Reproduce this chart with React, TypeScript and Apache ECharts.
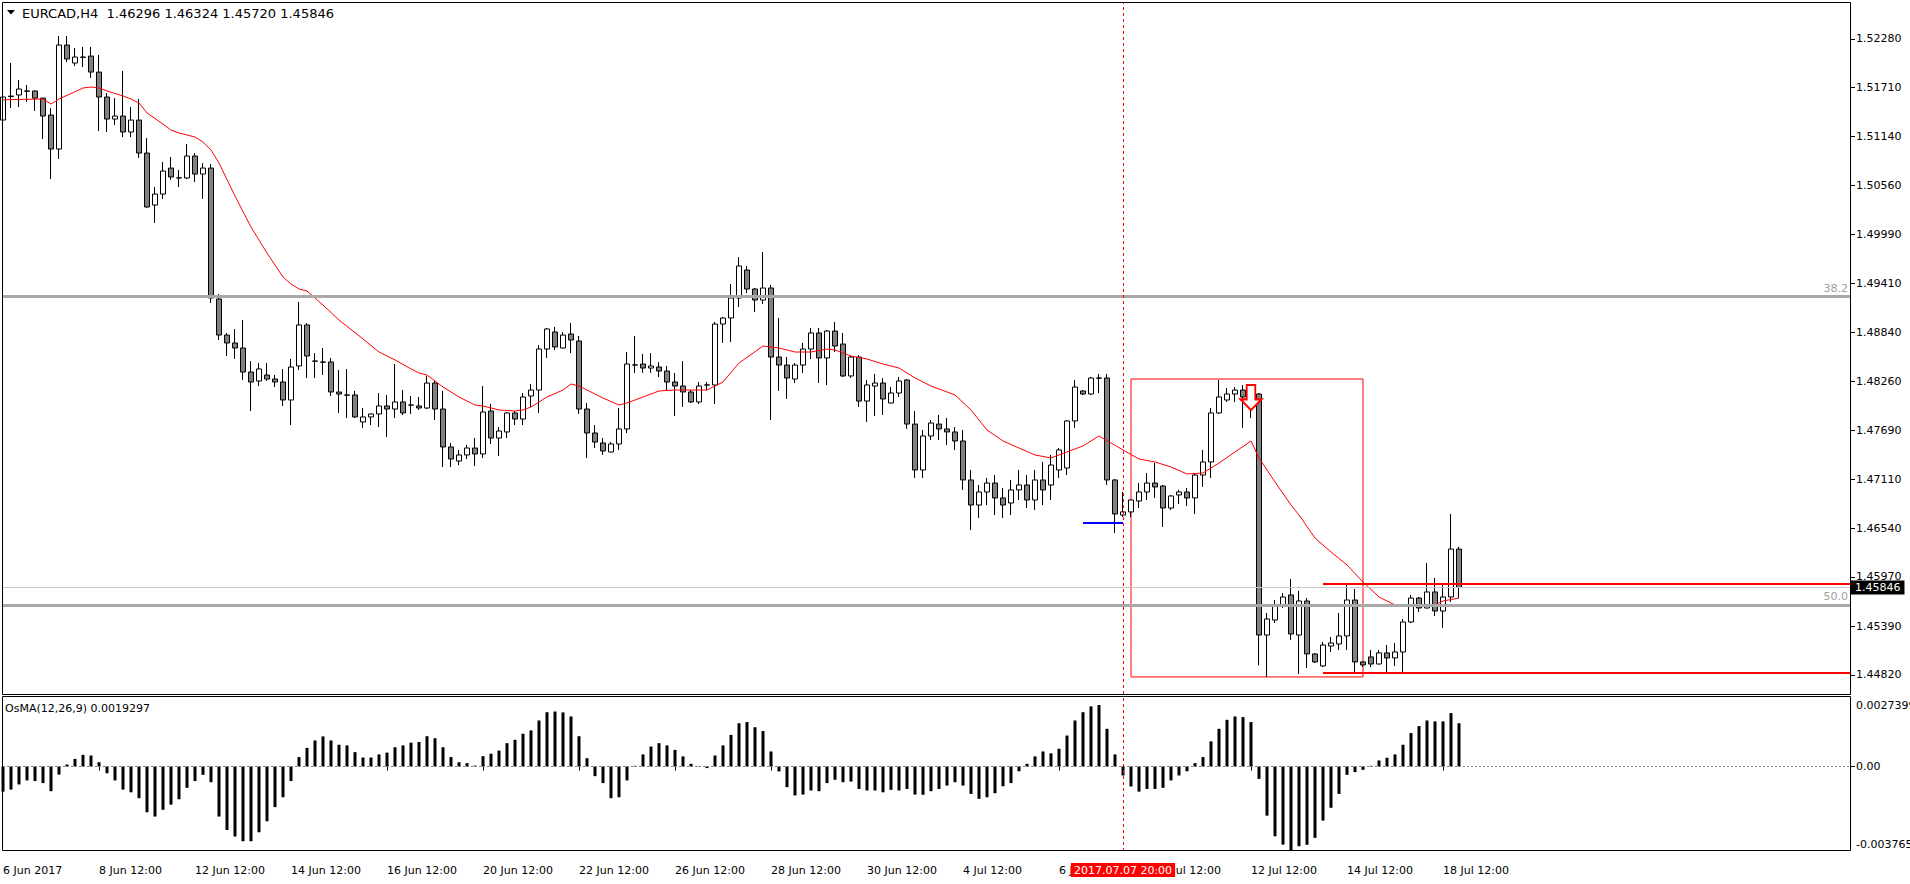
import React, { useEffect, useRef } from "react";
import * as echarts from "echarts";

const title = "EURCAD,H4";
const lastBar = [1.46296, 1.46324, 1.4572, 1.45846];
const priceTicks = [1.5228, 1.5171, 1.5114, 1.5056, 1.4999, 1.4941, 1.4884, 1.4826, 1.4769, 1.4711, 1.4654, 1.4597, 1.4539, 1.4482];
const timeTickIdx = [0, 12, 24, 36, 48, 60, 72, 84, 96, 108, 120, 132, 144, 156, 168, 180];
const timeTickLabels = ["6 Jun 2017", "8 Jun 12:00", "12 Jun 12:00", "14 Jun 12:00", "16 Jun 12:00", "20 Jun 12:00", "22 Jun 12:00", "26 Jun 12:00", "28 Jun 12:00", "30 Jun 12:00", "4 Jul 12:00", "6 Jul 12:00", "10 Jul 12:00", "12 Jul 12:00", "14 Jul 12:00", "18 Jul 12:00"];

// [open, high, low, close]
const ohlc: number[][] = [
  [1.51329, 1.51775, 1.51236, 1.51599], [1.51605, 1.51998, 1.5147, 1.51611], [1.51623, 1.51799, 1.51482, 1.51693], [1.5167, 1.5174, 1.51541, 1.51668],
  [1.5167, 1.51675, 1.51435, 1.51587], [1.51587, 1.5159, 1.51107, 1.51376], [1.51388, 1.5147, 1.50637, 1.50989], [1.50989, 1.52315, 1.50872, 1.52209],
  [1.52209, 1.52315, 1.5201, 1.52045], [1.51998, 1.52174, 1.51963, 1.52068], [1.52068, 1.52186, 1.51951, 1.52065], [1.5208, 1.52186, 1.51822, 1.51892],
  [1.51892, 1.52092, 1.512, 1.51599], [1.51599, 1.51646, 1.51189, 1.51341], [1.51341, 1.51587, 1.51271, 1.51376], [1.51376, 1.51904, 1.5113, 1.51189],
  [1.51189, 1.51482, 1.5113, 1.51329], [1.51329, 1.51576, 1.50884, 1.50942], [1.50942, 1.51118, 1.503, 1.50309], [1.50332, 1.50544, 1.50121, 1.50461],
  [1.50461, 1.50837, 1.50403, 1.50731], [1.50766, 1.50895, 1.50626, 1.50661], [1.50649, 1.50743, 1.50544, 1.50652], [1.50649, 1.51048, 1.50637, 1.50907],
  [1.50907, 1.50942, 1.50602, 1.50696], [1.50696, 1.50825, 1.50403, 1.50766], [1.50766, 1.50813, 1.49183, 1.49242], [1.4923, 1.49288, 1.48749, 1.48807],
  [1.48807, 1.48831, 1.48561, 1.48714], [1.48714, 1.48878, 1.48526, 1.48655], [1.48655, 1.48983, 1.4828, 1.48373], [1.48373, 1.48502, 1.47916, 1.48256],
  [1.48268, 1.48479, 1.48209, 1.48409], [1.48338, 1.48479, 1.48268, 1.48291], [1.48291, 1.48338, 1.48197, 1.48256], [1.48256, 1.48409, 1.47975, 1.48045],
  [1.48045, 1.48526, 1.47752, 1.48432], [1.48444, 1.49195, 1.48397, 1.48925], [1.48925, 1.48948, 1.48303, 1.48561], [1.48502, 1.48596, 1.48303, 1.485],
  [1.48491, 1.48655, 1.48338, 1.48488], [1.48491, 1.48538, 1.48092, 1.48139], [1.48139, 1.48397, 1.47893, 1.48115], [1.48104, 1.48409, 1.47834, 1.48102],
  [1.48104, 1.48151, 1.47834, 1.47846], [1.47787, 1.47951, 1.47717, 1.47846], [1.47846, 1.47885, 1.47752, 1.47881], [1.47881, 1.48127, 1.47728, 1.47975],
  [1.47975, 1.48104, 1.47611, 1.47939], [1.47939, 1.48467, 1.47834, 1.48022], [1.48022, 1.48162, 1.47869, 1.47893], [1.47986, 1.48092, 1.47881, 1.47985],
  [1.47975, 1.4808, 1.47928, 1.47951], [1.47951, 1.48327, 1.47939, 1.48244], [1.48244, 1.4828, 1.4781, 1.47939], [1.47939, 1.48151, 1.47259, 1.47494],
  [1.47494, 1.47541, 1.47259, 1.47353], [1.47329, 1.47459, 1.47282, 1.474], [1.474, 1.47517, 1.47353, 1.47482], [1.47482, 1.47599, 1.47271, 1.47412],
  [1.47412, 1.48209, 1.47365, 1.47904], [1.47916, 1.47998, 1.47529, 1.47599], [1.47599, 1.47728, 1.47388, 1.47681], [1.4767, 1.47904, 1.47599, 1.47893],
  [1.47893, 1.47916, 1.47752, 1.47822], [1.47822, 1.48127, 1.47752, 1.4808], [1.48092, 1.48233, 1.47963, 1.48162], [1.48162, 1.4869, 1.47893, 1.48643],
  [1.48643, 1.4889, 1.48538, 1.48878], [1.48843, 1.48901, 1.48632, 1.48667], [1.48655, 1.48843, 1.4865, 1.48807], [1.48819, 1.48948, 1.48596, 1.48749],
  [1.48737, 1.48796, 1.47881, 1.47939], [1.47939, 1.4801, 1.47365, 1.47658], [1.47658, 1.47752, 1.47482, 1.47552], [1.47541, 1.47599, 1.474, 1.47447],
  [1.47435, 1.47552, 1.4743, 1.47529], [1.47529, 1.47951, 1.47459, 1.47705], [1.47705, 1.48608, 1.47658, 1.48467], [1.48455, 1.48796, 1.48362, 1.48457],
  [1.48467, 1.48585, 1.48362, 1.4842], [1.4842, 1.48596, 1.48362, 1.48444], [1.48432, 1.48491, 1.48315, 1.48385], [1.48385, 1.48444, 1.48162, 1.48256],
  [1.48256, 1.48362, 1.47857, 1.48209], [1.48209, 1.48502, 1.47963, 1.48139], [1.48139, 1.48162, 1.4801, 1.48022], [1.48022, 1.48256, 1.47998, 1.48209],
  [1.48221, 1.48256, 1.48162, 1.48222], [1.48221, 1.4896, 1.47998, 1.48936], [1.48936, 1.49019, 1.48714, 1.49007], [1.49007, 1.49406, 1.48725, 1.49242],
  [1.49242, 1.49722, 1.49136, 1.49617], [1.4957, 1.49617, 1.493, 1.49347], [1.49347, 1.49359, 1.49077, 1.49218], [1.49218, 1.49781, 1.49171, 1.49359],
  [1.49359, 1.49394, 1.4781, 1.48549], [1.48549, 1.49007, 1.48151, 1.48455], [1.48455, 1.48549, 1.48057, 1.48303], [1.48291, 1.48479, 1.48244, 1.48455],
  [1.48455, 1.48714, 1.48362, 1.48643], [1.48643, 1.4889, 1.48526, 1.48831], [1.48831, 1.4889, 1.48244, 1.48538], [1.48538, 1.48866, 1.48221, 1.48854],
  [1.48854, 1.4896, 1.48608, 1.48678], [1.48702, 1.48831, 1.48315, 1.48327], [1.48327, 1.48561, 1.48303, 1.48549], [1.48549, 1.48573, 1.47963, 1.48033],
  [1.48033, 1.4828, 1.47787, 1.48221], [1.48209, 1.4835, 1.47857, 1.48244], [1.48244, 1.48303, 1.47869, 1.48057], [1.4801, 1.48197, 1.48005, 1.48127],
  [1.48127, 1.48315, 1.4808, 1.48268], [1.4828, 1.48291, 1.47705, 1.47763], [1.47763, 1.47916, 1.4713, 1.47224], [1.47224, 1.47693, 1.4713, 1.47623],
  [1.47623, 1.4781, 1.47576, 1.47775], [1.47763, 1.47869, 1.47576, 1.47705], [1.47705, 1.47834, 1.47517, 1.4767], [1.4767, 1.47728, 1.47459, 1.47564],
  [1.47564, 1.47693, 1.4699, 1.47107], [1.47107, 1.47224, 1.4652, 1.46813], [1.46813, 1.47048, 1.46661, 1.46966], [1.46966, 1.4713, 1.46813, 1.47071],
  [1.47071, 1.47165, 1.46696, 1.46896], [1.46896, 1.47013, 1.46661, 1.46813], [1.46837, 1.47107, 1.46696, 1.4699], [1.4699, 1.47224, 1.46872, 1.47048],
  [1.47048, 1.47165, 1.46778, 1.46872], [1.46872, 1.47224, 1.46755, 1.47107], [1.47107, 1.47318, 1.46813, 1.4699], [1.47048, 1.474, 1.46872, 1.47282],
  [1.47224, 1.47482, 1.4713, 1.47459], [1.47247, 1.4781, 1.47165, 1.47799], [1.47799, 1.4828, 1.47717, 1.48197], [1.48151, 1.48162, 1.48104, 1.48115],
  [1.48115, 1.48315, 1.48104, 1.48303], [1.48303, 1.4835, 1.48127, 1.48301], [1.48303, 1.4835, 1.47048, 1.47107], [1.47107, 1.47119, 1.46485, 1.46708],
  [1.46696, 1.46966, 1.46673, 1.46732], [1.46732, 1.4688, 1.46673, 1.46872], [1.4686, 1.47071, 1.46778, 1.46966], [1.46966, 1.47189, 1.46872, 1.47071],
  [1.47071, 1.47306, 1.46896, 1.47025], [1.47036, 1.47048, 1.46555, 1.46778], [1.46778, 1.46931, 1.46755, 1.46919], [1.46931, 1.4699, 1.46825, 1.46966],
  [1.46966, 1.47013, 1.46802, 1.46896], [1.46896, 1.47189, 1.46708, 1.47165], [1.47165, 1.47459, 1.47025, 1.47318], [1.47318, 1.47951, 1.4713, 1.47893],
  [1.47893, 1.4828, 1.47881, 1.4808], [1.48045, 1.48186, 1.48022, 1.48115], [1.48115, 1.48197, 1.48022, 1.48162], [1.48162, 1.48221, 1.47717, 1.4808],
  [1.4808, 1.48221, 1.47834, 1.48139], [1.48115, 1.48127, 1.44932, 1.45288], [1.45288, 1.45546, 1.44796, 1.45476], [1.45464, 1.45699, 1.45429, 1.45629],
  [1.45629, 1.45781, 1.45605, 1.45734], [1.45758, 1.45945, 1.4523, 1.453], [1.45288, 1.45805, 1.44831, 1.45687], [1.45687, 1.45722, 1.44901, 1.45066],
  [1.45066, 1.45075, 1.4496, 1.44972], [1.44925, 1.45206, 1.44913, 1.45171], [1.45159, 1.45265, 1.45089, 1.45194], [1.45183, 1.45546, 1.45112, 1.45277],
  [1.45277, 1.45875, 1.45112, 1.45699], [1.45699, 1.45828, 1.44855, 1.44972], [1.44972, 1.44984, 1.44913, 1.44937], [1.45031, 1.45112, 1.44913, 1.44948],
  [1.44948, 1.45112, 1.44942, 1.45078], [1.45078, 1.45171, 1.44831, 1.45019], [1.45019, 1.45194, 1.44925, 1.45089], [1.45089, 1.45476, 1.44855, 1.45441],
  [1.45441, 1.45758, 1.45429, 1.45722], [1.45722, 1.45734, 1.45558, 1.45605], [1.45605, 1.46133, 1.456, 1.45793], [1.45793, 1.45957, 1.45511, 1.4557],
  [1.4557, 1.45875, 1.45371, 1.45734], [1.45734, 1.46708, 1.45675, 1.46296], [1.46296, 1.46324, 1.4572, 1.45846],
];

const maIdx = [0, 5, 6, 7, 10, 11, 12, 13, 15, 16, 17, 18, 20, 21, 22, 24, 25, 26, 27, 29, 31, 33, 35, 36, 37, 38, 40, 42, 45, 47, 49, 51, 52, 53, 55, 57, 59, 60, 62, 64, 65, 66, 68, 70, 71, 72, 75, 77, 78, 80, 82, 84, 88, 90, 92, 95, 97, 99, 101, 103, 104, 106, 108, 110, 112, 114, 116, 119, 121, 123, 125, 127, 129, 131, 133, 135, 137, 140, 142, 144, 146, 148, 150, 152, 154, 156, 157, 159, 161, 162, 164, 166, 168, 170, 172, 174, 176, 179, 180, 182];
const maVal = [1.51567, 1.51576, 1.51517, 1.51576, 1.51705, 1.51717, 1.51705, 1.5167, 1.51611, 1.51576, 1.51529, 1.51412, 1.51282, 1.51212, 1.51177, 1.5113, 1.51071, 1.50977, 1.50825, 1.50438, 1.50074, 1.49769, 1.49488, 1.49406, 1.49347, 1.49323, 1.49159, 1.48983, 1.48761, 1.48608, 1.48515, 1.48409, 1.48362, 1.48338, 1.48197, 1.4808, 1.47986, 1.47975, 1.47928, 1.47916, 1.47928, 1.47963, 1.4808, 1.48162, 1.48233, 1.48209, 1.48068, 1.47986, 1.4801, 1.4808, 1.48151, 1.48162, 1.48162, 1.48256, 1.48479, 1.48678, 1.48655, 1.48608, 1.48608, 1.48643, 1.48632, 1.48561, 1.48526, 1.48467, 1.4842, 1.48303, 1.48209, 1.48104, 1.47928, 1.47693, 1.47564, 1.47482, 1.474, 1.47365, 1.47435, 1.47506, 1.47623, 1.47459, 1.47353, 1.47318, 1.47259, 1.47177, 1.47189, 1.47306, 1.47435, 1.47564, 1.47365, 1.47083, 1.46813, 1.46696, 1.46426, 1.46262, 1.4611, 1.4591, 1.45734, 1.4564, 1.45629, 1.4564, 1.45687, 1.45722];

const osma = [
  -0.00112, -0.00103, -0.0008, -0.00062, -0.00065, -0.00074, -0.0011, -0.00036, 0.00009, 0.00034, 0.00052, 0.00049, 0.00019, -0.0003, -0.00062, -0.00103,
  -0.00115, -0.00141, -0.00204, -0.00223, -0.00193, -0.0017, -0.00146, -0.00095, -0.00065, -0.00037, -0.0007, -0.00223, -0.00283, -0.00312, -0.00333, -0.00333,
  -0.00293, -0.00244, -0.00181, -0.00137, -0.00065, 0.00042, 0.00083, 0.00116, 0.00134, 0.00116, 0.00097, 0.00094, 0.00064, 0.0004, 0.0004, 0.00054,
  0.00062, 0.00086, 0.00094, 0.00106, 0.00109, 0.00135, 0.00126, 0.00086, 0.00042, 0.00019, 0.00015, 0.00004, 0.00046, 0.00057, 0.00071, 0.00104,
  0.00119, 0.00146, 0.00161, 0.00205, 0.00242, 0.00245, 0.00241, 0.00223, 0.00135, 0.00037, -0.00043, -0.00074, -0.00141, -0.00137, -0.00062, 0.00003,
  0.00054, 0.00089, 0.00104, 0.00094, 0.00074, 0.00045, 0.00012, 0.00002, -0.00007, 0.00049, 0.00094, 0.00141, 0.00193, 0.00198, 0.00175, 0.00158,
  0.00067, -0.00022, -0.00092, -0.00129, -0.00125, -0.00107, -0.0011, -0.00074, -0.00059, -0.0007, -0.00067, -0.001, -0.00107, -0.00107, -0.00115, -0.00104,
  -0.00107, -0.001, -0.00125, -0.00126, -0.0011, -0.001, -0.00085, -0.0007, -0.00085, -0.00122, -0.00144, -0.00137, -0.00119, -0.00088, -0.00074, -0.00021,
  0.00012, 0.00045, 0.00067, 0.00059, 0.00079, 0.00138, 0.00205, 0.00242, 0.00268, 0.0027399, 0.00168, 0.00054, -0.0004, -0.00089, -0.00112, -0.001,
  -0.001, -0.00095, -0.00062, -0.0004, -0.00021, 0.00015, 0.00042, 0.00112, 0.00168, 0.00208, 0.00223, 0.0022, 0.00198, -0.00055, -0.00219, -0.00311,
  -0.00348, -0.003765, -0.00355, -0.00349, -0.00318, -0.00241, -0.00184, -0.00122, -0.00037, -0.00025, -0.00015, 0.00003, 0.00027, 0.00039, 0.00054, 0.00097,
  0.00149, 0.0018, 0.00205, 0.00201, 0.00201, 0.00238, 0.0019297,
];

const osmaName = "OsMA(12,26,9)";
const osmaLast = 0.0019297;
const osmaScaleLabels = [0.0027399, 0, -0.003765];
const osmaScaleTexts = ["0.0027399", "0.00", "-0.003765"];
const fibLevels = ["38.2", "50.0"];
const fibPrices = [1.49257, 1.4564];
const bidPrice = 1.45846;
const crossIdx = 140;
const crossLabel = "2017.07.07 20:00";
const boxFrom = [141, 1.48291];
const boxTo = [170, 1.44796];
const redLevels = [1.45887, 1.44843];
const redLevelStart = 165;
const blueLevel = [135, 140, 1.46602];
const arrowAt = [156, 1.48074];

const N_SLOTS = 232;
const PRICE_MIN = 1.44596;
const PRICE_MAX = 1.52714;
const OSMA_MIN = -0.003765;
const OSMA_MAX = 0.003097;

export default function App() {
  const ref = useRef<HTMLDivElement>(null);
  useEffect(() => {
    document.body.style.margin = "0";
    const chart = echarts.init(ref.current!, null, { renderer: "svg" });
    const font = "DejaVu Sans";
    const cats = Array.from({ length: N_SLOTS }, (_, i) => String(i));
    const labelMap: Record<number, string> = {};
    timeTickIdx.forEach((ix, k) => (labelMap[ix] = timeTickLabels[k]));
    const candleData = ohlc.map(([o, h, l, c]) => [o, c, l, h]);
    const maData: (number | null)[] = new Array(N_SLOTS).fill(null);
    maIdx.forEach((ix, k) => (maData[ix] = maVal[k]));
    const isTick = (i: number) => labelMap[i] !== undefined;

    chart.setOption({
      animation: false,
      textStyle: { fontFamily: font, fontSize: 11 },
      grid: [
        { left: 3, right: 59, top: 2, height: 692 },
        { left: 3, right: 59, top: 697, height: 154 },
      ],
      xAxis: [
        { type: "category", gridIndex: 0, data: cats, boundaryGap: false, show: false },
        {
          type: "category", gridIndex: 1, data: cats, boundaryGap: false, offset: 8,
          axisLine: { show: false },
          axisTick: { show: true, interval: (i: number) => isTick(i), length: 4, lineStyle: { color: "#000" } },
          axisLabel: {
            show: true, interval: (i: number) => isTick(i), formatter: (_v: string, i: number) => labelMap[i] || "",
            align: "left", margin: 6, color: "#000", fontSize: 11, fontFamily: font,
          },
          splitLine: { show: false },
        },
      ],
      yAxis: [
        {
          type: "value", gridIndex: 0, position: "right", min: PRICE_MIN, max: PRICE_MAX,
          axisLine: { show: false },
          axisTick: { show: true, customValues: priceTicks, length: 4, lineStyle: { color: "#000" } },
          axisLabel: { show: true, customValues: priceTicks, formatter: (v: number) => v.toFixed(5), margin: 5, color: "#000", fontSize: 11, fontFamily: font },
          splitLine: { show: false },
        },
        {
          type: "value", gridIndex: 1, position: "right", min: OSMA_MIN, max: OSMA_MAX,
          axisLine: { show: false },
          axisTick: { show: true, customValues: [0], length: 4, lineStyle: { color: "#000" } },
          axisLabel: { show: false },
          splitLine: { show: false },
        },
      ],
      series: [
        {
          // level lines (drawn beneath the candles)
          type: "line", xAxisIndex: 0, yAxisIndex: 0, data: maData, connectNulls: true, symbol: "none", z: 1, silent: true,
          lineStyle: { opacity: 0 },
          markLine: {
            silent: true, symbol: ["none", "none"], animation: false, precision: 6,
            data: [
              { yAxis: fibPrices[0], lineStyle: { color: "#a8a8a8", width: 3, type: "solid" }, label: { show: true, formatter: fibLevels[0], position: "insideEndTop", color: "#a0a0a0", fontSize: 11, distance: 3 } },
              { yAxis: fibPrices[1], lineStyle: { color: "#a8a8a8", width: 3, type: "solid" }, label: { show: true, formatter: fibLevels[1], position: "insideEndTop", color: "#a0a0a0", fontSize: 11, distance: 3 } },
              { yAxis: bidPrice, lineStyle: { color: "#c8c8c8", width: 1, type: "solid" }, label: { show: true, position: "end", formatter: bidPrice.toFixed(5), color: "#fff", backgroundColor: "#000", padding: [2, 4, 1, 4], distance: 0, fontSize: 11 } },
            ],
          },
        },
        {
          type: "candlestick", xAxisIndex: 0, yAxisIndex: 0, barWidth: 5, data: candleData, z: 3,
          itemStyle: { color: "#ffffff", color0: "#808080", borderColor: "#000", borderColor0: "#000", borderColorDoji: "#000", borderWidth: 1 },
          markLine: {
            silent: true, symbol: ["none", "none"], animation: false, precision: 6,
            data: [
              { xAxis: crossIdx, lineStyle: { color: "#ff0000", width: 1, type: [3, 3] }, label: { show: false } },
              [
                { coord: [redLevelStart, redLevels[0]], lineStyle: { color: "#ff0000", width: 2, type: "solid" }, label: { show: false } },
                { coord: [N_SLOTS - 1, redLevels[0]] },
              ],
              [
                { coord: [redLevelStart, redLevels[1]], lineStyle: { color: "#ff0000", width: 2, type: "solid" }, label: { show: false } },
                { coord: [N_SLOTS - 1, redLevels[1]] },
              ],
              [
                { coord: [blueLevel[0], blueLevel[2]], lineStyle: { color: "#0000ff", width: 2, type: "solid" }, label: { show: false } },
                { coord: [blueLevel[1], blueLevel[2]] },
              ],
            ],
          },
          markArea: {
            silent: true,
            itemStyle: { color: "rgba(0,0,0,0)", borderColor: "#ff0000", borderWidth: 1 },
            data: [[{ coord: boxFrom }, { coord: boxTo }]],
          },
          markPoint: {
            silent: true,
            data: [{ coord: arrowAt }],
            symbol: "path://M6.5,0 L15.5,0 L15.5,15 L22,15 L11,26 L0,15 L6.5,15 Z",
            symbolSize: [21, 25],
            itemStyle: { color: "#ffffff", borderColor: "#ff0000", borderWidth: 2 },
            label: { show: false },
          },
        },
        {
          type: "line", xAxisIndex: 0, yAxisIndex: 0, data: maData, connectNulls: true, symbol: "none", z: 4,
          lineStyle: { color: "#ff0000", width: 1 }, silent: true,
        },
        {
          type: "bar", xAxisIndex: 1, yAxisIndex: 1, data: osma, barWidth: 3, itemStyle: { color: "#000" }, silent: true,
          markLine: {
            silent: true, symbol: ["none", "none"], animation: false, precision: 8,
            data: [
              { yAxis: 0, lineStyle: { color: "#808080", width: 1, type: [2, 2] }, label: { show: false } },
              {
                xAxis: crossIdx, lineStyle: { color: "#ff0000", width: 1, type: [3, 3] },
                label: { show: true, position: "start", formatter: crossLabel, color: "#fff", backgroundColor: "#ff0000", padding: [2, 3, 1, 3], distance: 12, fontSize: 11 },
              },
            ],
          },
        },
      ],
    });

    const osmaY = osmaScaleLabels.map((v) => chart.convertToPixel({ yAxisIndex: 1 }, v) as number);
    chart.setOption({
      graphic: [
        { type: "rect", silent: true, z: 100, shape: { x: 2.5, y: 2.5, width: 1848, height: 692 }, style: { fill: "none", stroke: "#000", lineWidth: 1 } },
        { type: "rect", silent: true, z: 100, shape: { x: 2.5, y: 696.5, width: 1848, height: 154 }, style: { fill: "none", stroke: "#000", lineWidth: 1 } },
        { type: "polygon", silent: true, z: 100, shape: { points: [[7, 10], [15, 10], [11, 14.5]] }, style: { fill: "#000" } },
        {
          type: "text", silent: true, z: 100, x: 22, y: 13,
          style: { text: `${title}  ${lastBar.map((v) => v.toFixed(5)).join(" ")}`, fill: "#000", fontSize: 13, fontFamily: font, verticalAlign: "middle" },
        },
        {
          type: "text", silent: true, z: 100, x: 5, y: 708,
          style: { text: `${osmaName} ${osmaLast.toFixed(7)}`, fill: "#000", fontSize: 11, fontFamily: font, verticalAlign: "middle" },
        },
        { type: "text", silent: true, z: 100, x: 1856, y: osmaY[0] - 5, style: { text: osmaScaleTexts[0], fill: "#000", fontSize: 11, fontFamily: font, verticalAlign: "top" } },
        { type: "text", silent: true, z: 100, x: 1856, y: osmaY[1], style: { text: osmaScaleTexts[1], fill: "#000", fontSize: 11, fontFamily: font, verticalAlign: "middle" } },
        { type: "text", silent: true, z: 100, x: 1856, y: osmaY[2] - 1, style: { text: osmaScaleTexts[2], fill: "#000", fontSize: 11, fontFamily: font, verticalAlign: "bottom" } },
      ],
    });

    return () => chart.dispose();
  }, []);
  return <div ref={ref} style={{ width: 1910, height: 884 }} />;
}
